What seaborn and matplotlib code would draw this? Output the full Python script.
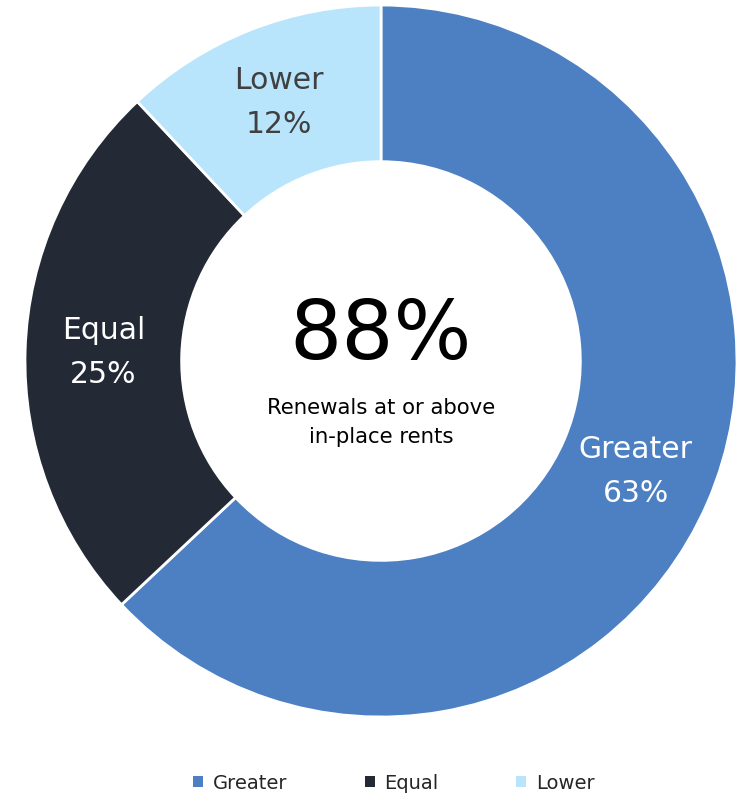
import matplotlib

matplotlib.use("Agg")

import matplotlib.pyplot as plt
import numpy as np
import seaborn as sns
from matplotlib.patches import Patch

# Datos
CATEGORIES = ["Greater", "Equal", "Lower"]
SHARES = [63, 25, 12]
COLORS = ["#4C80C3", "#232A35", "#B8E5FC"]
LABEL_COLORS = ["white", "white", "#404040"]
CENTER_VALUE = "88%"
CENTER_TEXT = "Renewals at or above\nin-place rents"

sns.set_theme(style="white")
plt.rcParams["font.family"] = ["DejaVu Sans"]

fig = plt.figure(figsize=(7.46, 7.96), dpi=100)
ax = fig.add_axes([0.0335, 0.0992, 0.9544, 0.8945])

wedges, _ = ax.pie(
    SHARES,
    colors=COLORS,
    startangle=90,
    counterclock=False,
    radius=1.0,
    wedgeprops={"width": 0.44, "edgecolor": "white", "linewidth": 2},
)
ax.set_xlim(-1, 1)
ax.set_ylim(-1, 1)
ax.set_aspect("equal")
ax.axis("off")

# Etiquetas dentro de cada segmento
for wedge, name, share, color in zip(wedges, CATEGORIES, SHARES, LABEL_COLORS):
    theta = np.deg2rad((wedge.theta1 + wedge.theta2) / 2)
    ax.text(
        0.78 * np.cos(theta),
        0.78 * np.sin(theta),
        f"{name}\n{share}%",
        ha="center",
        va="center",
        fontsize=21.5,
        color=color,
        linespacing=1.65,
    )

ax.text(0, 0.068, CENTER_VALUE, ha="center", va="center", fontsize=59, color="black")
ax.text(0, -0.172, CENTER_TEXT, ha="center", va="center", fontsize=15.3,
        color="black", linespacing=1.55)

# Leyenda con cuadros sin borde
handles = [Patch(facecolor=c, edgecolor="none") for c in COLORS]
fig.legend(
    handles,
    CATEGORIES,
    loc="lower center",
    bbox_to_anchor=(0.528, -0.018),
    ncol=3,
    frameon=False,
    fontsize=14,
    handlelength=0.5,
    handleheight=0.5,
    handletextpad=0.5,
    columnspacing=4.0,
)

fig.savefig("out.png", dpi=100)
